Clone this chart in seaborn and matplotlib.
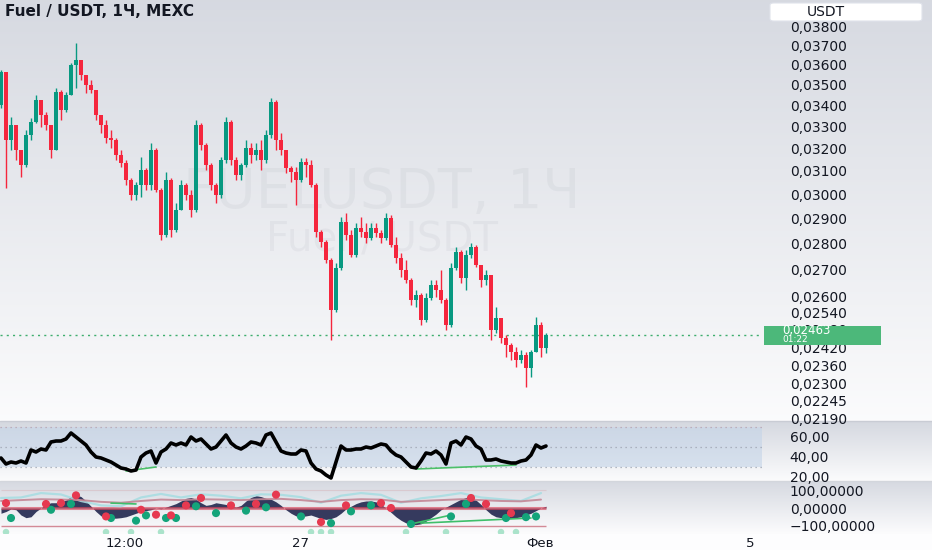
import numpy as np
import pandas as pd
import matplotlib
matplotlib.use("Agg")
import matplotlib.pyplot as plt
from matplotlib.patches import Rectangle, FancyBboxPatch
from matplotlib.ticker import FixedLocator, NullLocator, FixedFormatter
import seaborn as sns

sns.set_theme(style="white")
plt.rcParams['font.family'] = ['DejaVu Sans']

W, H = 932, 550
UP, DOWN = '#089981', '#f5263d'
TXT = '#131722'

# ---- candles (1h, Fuel / USDT) ----
first_open = 0.03401
closes = [0.03562, 0.03238, 0.03307, 0.03193, 0.03126, 0.03261, 0.03321, 0.03425, 0.03354, 0.03307,
          0.03193, 0.03464, 0.03377, 0.03449, 0.03597, 0.03623, 0.03547, 0.03498, 0.03473, 0.03354,
          0.03307, 0.03247, 0.03238, 0.03171, 0.03135, 0.03061, 0.02997, 0.03039, 0.03104, 0.03039,
          0.03193, 0.03018, 0.02833, 0.03061, 0.02853, 0.02935, 0.03039, 0.02997, 0.02935, 0.03307,
          0.03216, 0.03126, 0.03039, 0.02997, 0.03148, 0.03321, 0.03148, 0.03082, 0.03126, 0.03202,
          0.03171, 0.03193, 0.03148, 0.03261, 0.03415, 0.03238, 0.03193, 0.03113, 0.03096, 0.03061,
          0.03140, 0.03126, 0.03039, 0.02845, 0.02806, 0.02736, 0.02550, 0.02705, 0.02885, 0.02833,
          0.02755, 0.02861, 0.02845, 0.02821, 0.02861, 0.02841, 0.02821, 0.02902, 0.02794, 0.02743,
          0.02698, 0.02660, 0.02586, 0.02605, 0.02515, 0.02594, 0.02642, 0.02623, 0.02586, 0.02496,
          0.02705, 0.02767, 0.02668, 0.02755, 0.02786, 0.02717, 0.02660, 0.02679, 0.02480, 0.02522,
          0.02452, 0.02428, 0.02404, 0.02377, 0.02394, 0.02350, 0.02404, 0.02496, 0.02417, 0.02463]
highs = [0.03572, 0.03562, 0.03344, 0.03307, 0.03193, 0.03284, 0.03340, 0.03449, 0.03425, 0.03368,
         0.03307, 0.03483, 0.03473, 0.03464, 0.03607, 0.03711, 0.03623, 0.03547, 0.03522, 0.03473,
         0.03354, 0.03330, 0.03284, 0.03247, 0.03193, 0.03148, 0.03070, 0.03052, 0.03162, 0.03113,
         0.03224, 0.03202, 0.03026, 0.03096, 0.03070, 0.02963, 0.03061, 0.03048, 0.03018, 0.03330,
         0.03316, 0.03224, 0.03135, 0.03048, 0.03162, 0.03344, 0.03330, 0.03162, 0.03135, 0.03238,
         0.03224, 0.03224, 0.03238, 0.03284, 0.03434, 0.03425, 0.03270, 0.03193, 0.03122, 0.03118,
         0.03157, 0.03157, 0.03148, 0.03048, 0.02853, 0.02813, 0.02743, 0.02724, 0.02906, 0.02922,
         0.02853, 0.02881, 0.02906, 0.02881, 0.02881, 0.02881, 0.02853, 0.02922, 0.02914, 0.02825,
         0.02763, 0.02736, 0.02668, 0.02623, 0.02612, 0.02612, 0.02660, 0.02660, 0.02698, 0.02594,
         0.02724, 0.02786, 0.02774, 0.02774, 0.02802, 0.02794, 0.02717, 0.02698, 0.02679, 0.02560,
         0.02522, 0.02462, 0.02434, 0.02420, 0.02410, 0.02404, 0.02410, 0.02525, 0.02507, 0.02469]
lows = [0.03386, 0.03027, 0.03193, 0.03148, 0.03074, 0.03118, 0.03238, 0.03316, 0.03297, 0.03284,
        0.03157, 0.03193, 0.03330, 0.03368, 0.03449, 0.03483, 0.03522, 0.03459, 0.03459, 0.03330,
        0.03270, 0.03224, 0.03202, 0.03148, 0.03118, 0.03039, 0.02976, 0.02976, 0.02989, 0.03018,
        0.03018, 0.03010, 0.02813, 0.02825, 0.02825, 0.02845, 0.02935, 0.02976, 0.02906, 0.02927,
        0.03193, 0.03104, 0.03018, 0.02963, 0.02985, 0.03135, 0.03126, 0.03061, 0.03061, 0.03118,
        0.03135, 0.03148, 0.03104, 0.03135, 0.03247, 0.03193, 0.03171, 0.03091, 0.03052, 0.02955,
        0.03052, 0.03074, 0.03031, 0.02825, 0.02786, 0.02724, 0.02445, 0.02543, 0.02698, 0.02813,
        0.02747, 0.02747, 0.02825, 0.02802, 0.02813, 0.02825, 0.02802, 0.02813, 0.02786, 0.02724,
        0.02671, 0.02649, 0.02568, 0.02560, 0.02496, 0.02507, 0.02586, 0.02597, 0.02575, 0.02480,
        0.02490, 0.02698, 0.02649, 0.02623, 0.02743, 0.02709, 0.02634, 0.02642, 0.02445, 0.02469,
        0.02434, 0.02387, 0.02377, 0.02354, 0.02367, 0.02289, 0.02321, 0.02404, 0.02387, 0.02401]

price_ticks = [0.038, 0.037, 0.036, 0.035, 0.034, 0.033, 0.032, 0.031, 0.030, 0.029,
               0.028, 0.027, 0.026, 0.0254, 0.0248, 0.0242, 0.0236, 0.0230, 0.02245, 0.0219]
countdown = "01:22"

# ---- RSI pane ----
rsi = [39, 33, 35, 34, 36, 34, 47, 45, 48, 47, 55, 56, 56, 58, 64, 60, 56, 52, 45, 40,
       39, 37, 35, 32, 29, 28, 26, 27, 40, 44, 46, 34, 45, 48, 54, 52, 54, 52, 60, 56,
       58, 53, 48, 50, 56, 62, 54, 50, 48, 51, 55, 54, 52, 62, 64, 55, 46, 44, 43, 43,
       47, 46, 34, 28, 26, 22, 19, 35, 51, 47, 47, 48, 48, 50, 49, 51, 53, 52, 46, 42,
       40, 35, 30, 29, 36, 44, 43, 46, 42, 33, 54, 56, 52, 60, 58, 51, 48, 37, 37, 38,
       36, 35, 34, 34, 36, 37, 42, 52, 49, 51]
rsi_ticks = [60, 40, 20]
rsi_div_x = [[25, 31], [83, 103]]
rsi_div_y = [[26, 30], [28, 32]]

# ---- oscillator pane ----
wave = [-30, -20, -5, -10, -40, -55, -50, -20, 0, 20, 30, 30, 35, 45, 65, 75, 65, 40, 10, -20,
        -45, -55, -58, -58, -55, -50, -40, -30, -20, -15, -10, 0, -5, 5, 15, 25, 40, 55, 60, 50,
        30, 15, 20, 30, 25, 20, 10, 5, 15, 40, 60, 70, 65, 55, 50, 35, 15, -10, -30, -45,
        -50, -45, -40, -50, -60, -65, -60, -50, -30, -5, 10, 25, 35, 40, 40, 35, 20, 0, -25, -50,
        -70, -85, -95, -95, -90, -75, -55, -35, -10, 5, 20, 35, 50, 60, 60, 45, 20, -10, -35, -50,
        -55, -60, -60, -55, -50, -40, -30, -15, 0, 10]
line_idx = list(range(0, 110, 4))
cyan_line = [57, 60, 85, 77, 40, 15, 10, 60, 80, 60, 78, 70, 55, 78,
             75, 62, 30, 70, 85, 75, 30, 55, 68, 85, 60, 50, 40, 85]
pink_line = [40, 45, 50, 48, 45, 35, 30, 40, 48, 45, 50, 48, 45, 50,
             52, 45, 35, 45, 50, 48, 35, 40, 45, 50, 45, 40, 38, 48]
green_dot_idx = [2, 10, 14, 22, 27, 29, 33, 35, 39, 43, 49, 53, 60, 66, 70, 74, 82, 90, 93, 101, 105, 107]
green_dot_val = [-57, -10, 23, -57, -72, -42, -57, -57, 10, -29, -15, 4, -48, -86, -19, 15, -91, -48, 23, -57, -52, -48]
red_dot_idx = [1, 9, 12, 15, 21, 28, 31, 34, 37, 40, 46, 51, 55, 64, 69, 76, 78, 94, 97, 102]
red_dot_val = [28, 23, 28, 72, -48, -10, -38, -42, 15, 57, 15, 23, 76, -80, 15, 28, 0, 57, 23, -29]
pale_dot_idx = [1, 21, 26, 32, 62, 64, 66, 81, 89, 100, 103]
osc_div_x = [[22, 27], [82, 90], [84, 106]]
osc_div_y = [[28, 23], [-91, -40], [-86, -57]]
osc_ticks = [100, 0, -100]
osc_labels = ["100,00000", "0,00000", "\u2212100,00000"]

time_ticks = [24.8, 59.8, 107.8, 149.8]
time_labels = ["12:00", "27", "Фев", "5"]

# ---- frame ----
n = len(closes)
df = pd.DataFrame({'i': np.arange(n), 'open': [first_open] + closes[:-1], 'close': closes,
                   'high': highs, 'low': lows, 'rsi': rsi, 'wave': wave})
df['high'] = df[['high', 'open', 'close']].max(axis=1)
df['low'] = df[['low', 'open', 'close']].min(axis=1)
df['up'] = df['close'] >= df['open']

fig = plt.figure(figsize=(W / 100, H / 100), dpi=100)

# background gradients per pane
def grad(top, bot, rows):
    t = np.linspace(0, 1, rows)[:, None]
    return np.array(top)[None, :] * (1 - t) + np.array(bot)[None, :] * t

bg = np.vstack([grad((0.840, 0.852, 0.882), (0.985, 0.986, 0.990), 421),
                grad((0.835, 0.848, 0.878), (0.985, 0.986, 0.990), 60),
                grad((0.840, 0.852, 0.882), (0.988, 0.988, 0.992), 53),
                grad((0.995, 0.995, 0.997), (0.995, 0.995, 0.997), 16)])
ax_bg = fig.add_axes([0, 0, 1, 1], zorder=-1)
ax_bg.imshow(bg[:, None, :], aspect='auto', extent=[0, W, H, 0], interpolation='bilinear')
ax_bg.set_xlim(0, W)
ax_bg.set_ylim(H, 0)
ax_bg.axis('off')
ax_bg.axhline(421, color='#c9ccd4', lw=1)
ax_bg.axhline(481, color='#d3d6dc', lw=1)
# faint watermark
ax_bg.text(382, 193, "FUELUSDT, 1Ч", ha='center', va='center', fontsize=40,
           color=(0.45, 0.47, 0.53), alpha=0.07)
ax_bg.text(382, 240, "Fuel / USDT", ha='center', va='center', fontsize=29,
           color=(0.45, 0.47, 0.53), alpha=0.07)

XL = (-0.2, 152.2)
ax = fig.add_axes([0, 130 / H, 762 / W, 420 / H])
ax_r = fig.add_axes([0, 70 / H, 762 / W, 58 / H])
ax_o = fig.add_axes([0, 16 / H, 762 / W, 52 / H])
for a in (ax, ax_r, ax_o):
    a.set_facecolor('none')
    for s in a.spines.values():
        s.set_visible(False)
    a.set_xlim(*XL)
    a.yaxis.tick_right()
    a.tick_params(axis='y', length=0, pad=20, labelsize=10, colors=TXT)

# price pane
colors = np.where(df['up'], UP, DOWN)
ax.set_yscale('log')
ax.vlines(df['i'], df['low'], df['high'], colors=colors, lw=1.0, zorder=3)
body_lo = df[['open', 'close']].min(axis=1)
body_h = (df['open'] - df['close']).abs().clip(lower=0.00002)
ax.bar(df['i'], body_h, bottom=body_lo, width=0.7, color=colors, lw=0, zorder=4)
ax.set_ylim(0.021851, 0.039414)
ax.yaxis.set_major_locator(FixedLocator(price_ticks))
ax.yaxis.set_minor_locator(NullLocator())
ax.yaxis.set_major_formatter(FixedFormatter([f"{v:.5f}".replace('.', ',') for v in price_ticks]))
ax.yaxis.set_minor_formatter(FixedFormatter([]))
ax.set_xticks([])
ax.axhline(closes[-1], color='#3fae6f', lw=1.0, ls=(0, (1.5, 3)), zorder=2)

fig.text(5 / W, 1 - 12 / H, "Fuel / USDT, 1Ч, MEXC", ha='left', va='center',
         fontsize=11, weight='bold', color=TXT)

# USDT box
fig.add_artist(FancyBboxPatch((770 / W, 1 - 21 / H), 152 / W, 18 / H,
                              boxstyle="round,pad=0,rounding_size=0.004",
                              transform=fig.transFigure, fc='white', ec='#e0e3eb', lw=0.8))
fig.text(826 / W, 1 - 12 / H, "USDT", ha='center', va='center', fontsize=10, color=TXT)

# last price label
y_disp = ax.transData.transform((0, closes[-1]))[1]
fig.add_artist(Rectangle((764 / W, (y_disp - 10) / H), 117 / W, 19 / H,
                         transform=fig.transFigure, fc='#4cb87a', ec='none', zorder=5))
fig.text(782 / W, (y_disp + 4) / H, f"{closes[-1]:.5f}".replace('.', ','), ha='left', va='center',
         fontsize=8.5, color='white', zorder=6)
fig.text(782 / W, (y_disp - 5) / H, countdown, ha='left', va='center',
         fontsize=6.5, color='white', zorder=6)

# RSI pane
ax_r.axhspan(30, 70, color='#c4d4e8', alpha=0.6, lw=0, zorder=0)
ax_r.axhline(70, color='#b9a2ad', lw=0.9, ls=(0, (1, 3)))
ax_r.axhline(50, color='#9ea4b2', lw=0.9, ls=(0, (1, 3)))
ax_r.axhline(30, color='#9ea4b2', lw=0.9, ls=(0, (1, 3)))
sns.lineplot(data=df, x='i', y='rsi', ax=ax_r, color='black', lw=2.6, zorder=4)
for xs, ys in zip(rsi_div_x, rsi_div_y):
    ax_r.plot(xs, ys, color='#4cc06a', lw=1.2, zorder=3)
ax_r.set_ylim(17, 75)
ax_r.set_yticks(rsi_ticks)
ax_r.set_yticklabels([f"{v:.2f}".replace('.', ',') for v in rsi_ticks])
ax_r.set_xticks([])
ax_r.set_xlabel('')
ax_r.set_ylabel('')

# oscillator pane
ax_o.fill_between(df['i'], 0, df['wave'], color='#353a5e', lw=0, zorder=2)
sns.lineplot(x=line_idx, y=cyan_line, ax=ax_o, color='#a9dde2', lw=1.6, alpha=0.9, zorder=3)
sns.lineplot(x=line_idx, y=pink_line, ax=ax_o, color='#c48796', lw=1.4, alpha=0.9, zorder=3)
ax_o.hlines(0, 0, n - 1, color='#d9475c', lw=2.2, alpha=0.65, zorder=2.5)
ax_o.hlines(-100, 0, n - 1, color='#d38a96', lw=1.0, zorder=2)
ax_o.hlines(100, 0, n - 1, color='#d9c9cf', lw=0.8, zorder=1)
for xs, ys in zip(osc_div_x, osc_div_y):
    ax_o.plot(xs, ys, color='#3fbf6a', lw=1.2, zorder=4)
sns.scatterplot(x=green_dot_idx, y=green_dot_val, ax=ax_o, color='#14a47a', s=34, edgecolor='none', zorder=5)
sns.scatterplot(x=red_dot_idx, y=red_dot_val, ax=ax_o, color='#e63950', s=34, edgecolor='none', zorder=5)
sns.scatterplot(x=pale_dot_idx, y=[-137] * len(pale_dot_idx), ax=ax_o, color='#abe3cb',
                s=22, edgecolor='none', zorder=5)
ax_o.set_ylim(-148, 148)
ax_o.set_yticks(osc_ticks)
ax_o.set_yticklabels(osc_labels)
ax_o.set_xticks(time_ticks)
ax_o.set_xticklabels(time_labels)
ax_o.tick_params(axis='x', length=0, pad=2, labelsize=9.5, colors=TXT)
ax_o.set_xlim(*XL)
ax_o.set_xlabel('')
ax_o.set_ylabel('')

fig.savefig('out.png', dpi=100)
